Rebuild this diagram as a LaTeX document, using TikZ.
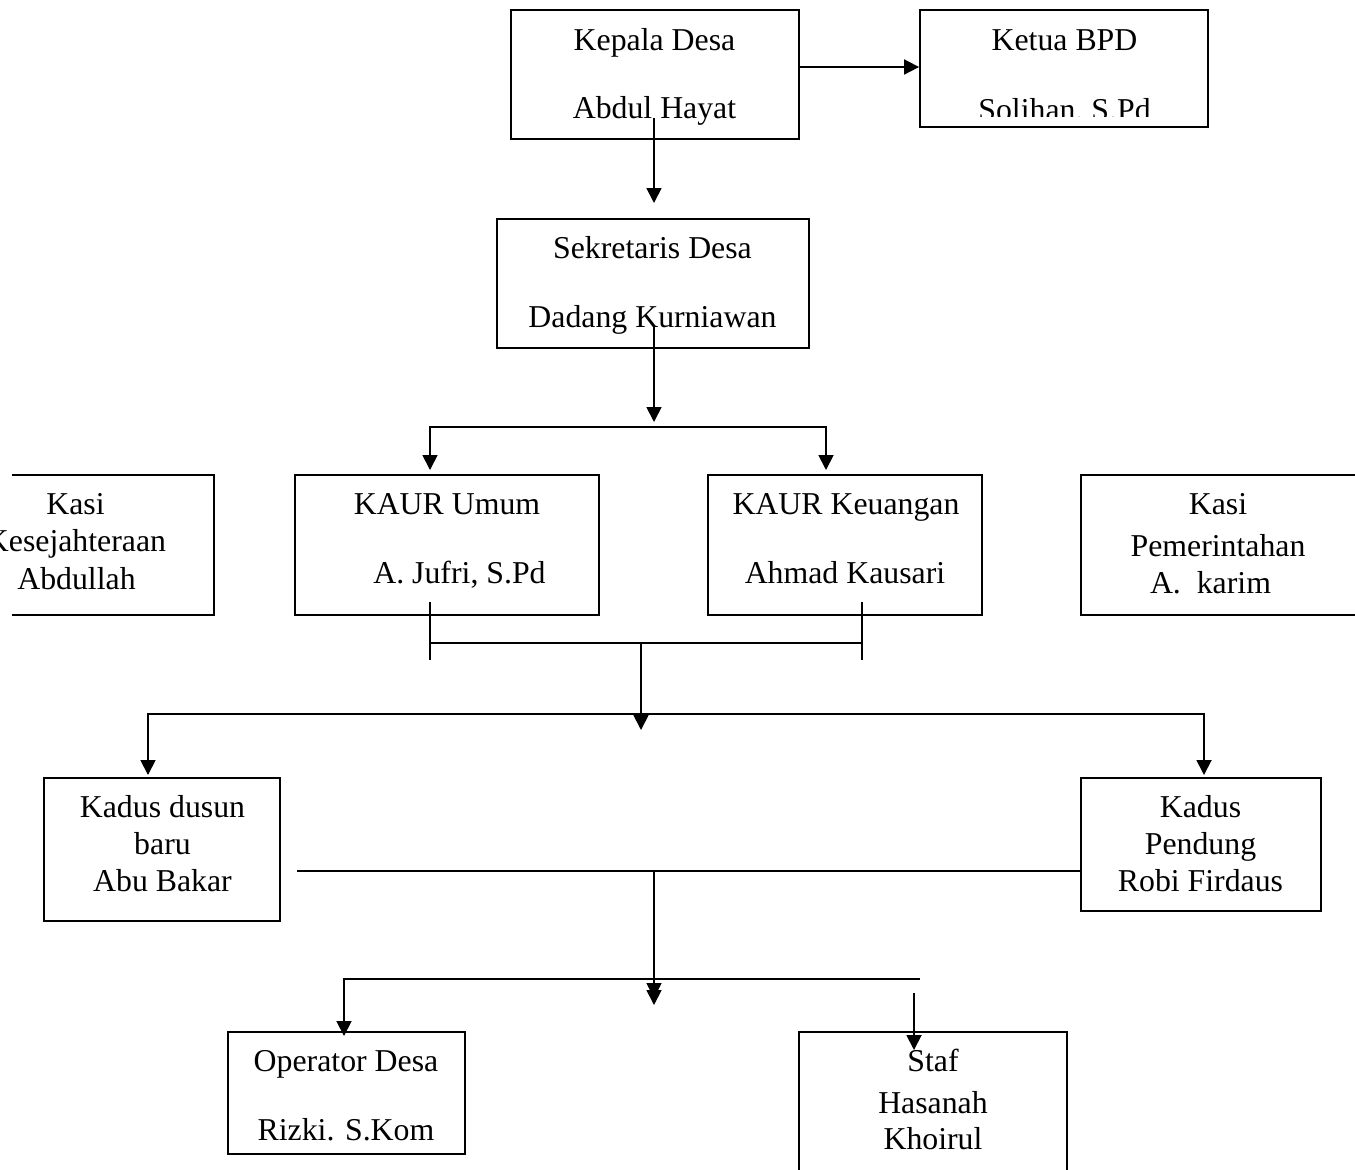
\documentclass[tikz,border=0pt]{standalone}
\usepackage{fontspec}
\setmainfont{Liberation Serif}
\usetikzlibrary{arrows.meta}
\tikzset{
  box/.style={draw, line width=0.9pt, rectangle, inner sep=0pt},
  txt/.style={anchor=base, inner sep=0pt, font=\fontsize{15.9pt}{18.5pt}\selectfont},
  conn/.style={line width=0.9pt},
  arr/.style={line width=0.9pt, -{Triangle[width=7.5pt,length=7.5pt]}},
  darr/.style={line width=0.9pt, {Triangle[width=7.5pt,length=7.5pt]}-{Triangle[width=7.5pt,length=7.5pt]}}
}
\begin{document}
\begin{tikzpicture}[x=0.5pt,y=-0.5pt]
\useasboundingbox (0,0) rectangle (1355,1169);
\fill[white] (0,0) rectangle (1355,1169);
\clip (0,0) rectangle (1355,1169);

% boxes
\node[box, minimum width=144pt, minimum height=64.5pt] (kepala) at (655,74.5) {};
\node[box, minimum width=144pt, minimum height=58.5pt] (ketua) at (1064,68.5) {};
\node[box, minimum width=156pt, minimum height=64.5pt] (sekdes) at (653,283.5) {};
\node[box, minimum width=152pt, minimum height=70pt] (kaurumum) at (447,545) {};
\node[box, minimum width=137pt, minimum height=70pt] (kaurkeu) at (845,545) {};
\begin{scope}
  \clip (12,0) rectangle (1355,1169);
  \node[box, minimum width=139pt, minimum height=70pt] (kasikes) at (75,545) {};
\end{scope}
\node[box, minimum width=138pt, minimum height=70pt] (kasipem) at (1219,545) {};
\node[box, minimum width=118pt, minimum height=71.5pt] (kadusbaru) at (162,849.5) {};
\node[box, minimum width=120pt, minimum height=66.5pt] (kaduspendung) at (1201,844.5) {};
\node[box, minimum width=118.5pt, minimum height=61pt] (operator) at (346.5,1093) {};
\node[box, minimum width=134pt, minimum height=74pt] (staf) at (933,1106) {};

% texts
\node[txt] (kepalaA) at (654.5,50) {Kepala Desa};
\node[txt] (kepalaB) at (654.5,118) {Abdul Hayat};
\node[txt] (ketuaA) at (1064.5,50) {Ketua BPD};
\begin{scope}
  \clip (900,0) rectangle (1230,116);
  \node[txt] (ketuaB) at (1064.5,120) {Solihan, S.Pd};
\end{scope}
\node[txt] (sekA) at (652.5,258) {Sekretaris Desa};
\node[txt] (sekB) at (652.5,327) {Dadang Kurniawan};
\node[txt] (umumA) at (447,514) {KAUR Umum};
\node[txt] (umumB) at (459.5,583) {A. Jufri, S.Pd};
\node[txt] (keuA) at (846,514) {KAUR Keuangan};
\node[txt] (keuB) at (845,583) {Ahmad Kausari};
\node[txt] (kesA) at (75.5,514) {Kasi};
\node[txt] (kesB) at (76,551) {Kesejahteraan};
\node[txt] (kesC) at (76.5,589) {Abdullah};
\node[txt] (pemA) at (1218,514) {Kasi};
\node[txt] (pemB) at (1218,556) {Pemerintahan};
\node[txt] (pemC) at (1210.5,593) {A.\ \ karim};
\node[txt] (baruA) at (162.5,817) {Kadus dusun};
\node[txt] (baruB) at (162.5,854) {baru};
\node[txt] (baruC) at (162.5,891) {Abu Bakar};
\node[txt] (pendA) at (1200.5,817) {Kadus};
\node[txt] (pendB) at (1200.5,854) {Pendung};
\node[txt] (pendC) at (1200.5,891) {Robi Firdaus};
\node[txt] (opA) at (346,1071) {Operator Desa};
\node[txt] (opB) at (346,1140) {Rizki. S.Kom};
\node[txt] (stafA) at (933,1071) {Staf};
\node[txt] (stafB) at (933,1113) {Hasanah};
\node[txt] (stafC) at (933,1149) {Khoirul};

% connector points
\coordinate (c1) at (654,118);
\coordinate (c2) at (654,203);
\coordinate (c3) at (654,325);
\coordinate (c4) at (654,422);
\coordinate (u1) at (430,602);
\coordinate (u2) at (430,660);
\coordinate (k1) at (862,602);
\coordinate (k2) at (862,660);
\coordinate (m1) at (641,643);
\coordinate (m2) at (641,730);
\coordinate (h1) at (297,871);
\coordinate (v1) at (654,871);
\coordinate (v2) at (654,1005);
\coordinate (v3) at (654,985);
\coordinate (v4) at (654,998);
\coordinate (o1) at (344,1036);
\coordinate (o2) at (920,979);
\coordinate (s1) at (914,993);
\coordinate (s2) at (914,1050);

% connectors
\draw[arr] (kepala.east |- 0,67) -- (ketua.west |- 0,67);
\draw[arr] (c1) -- (c2);
\draw[arr] (c3) -- (c4);
\draw[darr] (430,470) -- (430,427) -- (826,427) -- (826,470);
\draw[conn] (u1) -- (u2);
\draw[conn] (k1) -- (k2);
\draw[conn] (430,643) -- (862,643);
\draw[arr] (m1) -- (m2);
\draw[darr] (148,775) -- (148,714) -- (1204,714) -- (1204,775);
\draw[conn] (h1) -- (kaduspendung.west |- h1);
\draw[arr] (v1) -- (v2);
\draw[arr] (v3) -- (v4);
\draw[arr] (o2) -- (o1 |- o2) -- (o1);
\draw[arr] (s1) -- (s2);
\end{tikzpicture}
\end{document}
